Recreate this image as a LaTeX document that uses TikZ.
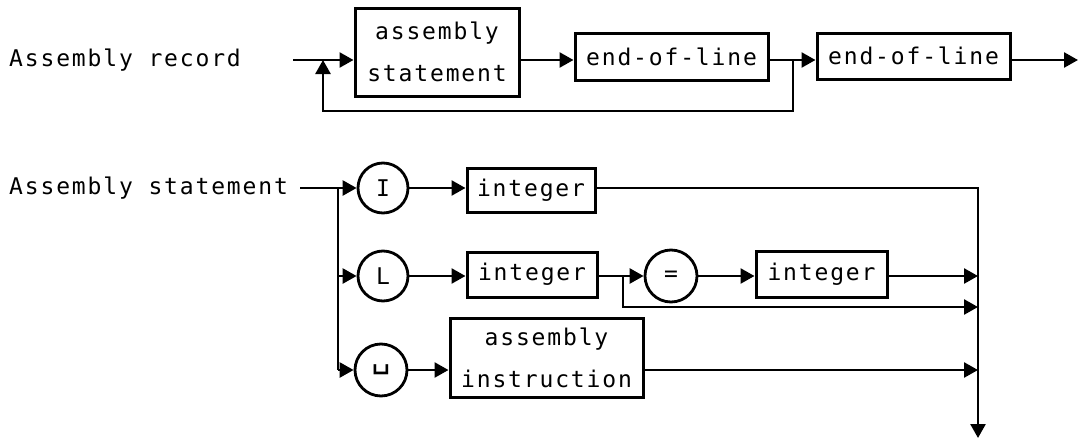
\documentclass[tikz,border=0pt]{standalone}
\usepackage{fontspec}
\newfontfamily\plotfont[LetterSpace=8]{DejaVu Sans Mono}
\usetikzlibrary{arrows.meta}
\tikzset{
  lbl/.style={font=\plotfont\fontsize{23}{40}\selectfont, inner sep=0pt},
  ln/.style={line width=2.6pt, line join=miter},
  arr/.style={ln, -{Triangle[length=14pt,width=15pt]}},
  boxnode/.style={draw, line width=3pt, font=\plotfont\fontsize{23}{40}\selectfont, inner sep=0pt, align=center},
  circnode/.style={draw, circle, line width=2.8pt, font=\plotfont\fontsize{23}{40}\selectfont, inner sep=0pt, minimum size=50pt},
}
\begin{document}
\begin{tikzpicture}[x=1pt,y=-1pt]
\useasboundingbox (0,0) rectangle (1084,439);
% ---------- top diagram ----------
\node[lbl, anchor=west] (t1) at (9,60) {Assembly record};
\node[boxnode, minimum width=164pt, minimum height=88pt] (as) at (437,52) {assembly\\[2pt]statement};
\node[boxnode, minimum width=193pt, minimum height=47pt] (e1) at (671.5,56.5) {end-of-line};
\node[boxnode, minimum width=193pt, minimum height=46pt] (e2) at (913.5,56) {end-of-line};
\coordinate (s0) at (293,60);
\coordinate (j1) at (323,60);
\coordinate (j2) at (793,60);
\coordinate (lp) at (793,111);
\coordinate (out1) at (1078,60);
\draw[arr] (s0) -- (s0 -| as.west);
\draw[arr] (as.east |- s0) -- (e1.west |- s0);
\draw[arr] (e1.east |- s0) -- (e2.west |- s0);
\draw[arr] (e2.east |- s0) -- (out1);
\draw[arr] (j2) -- (lp) -| (j1);
% ---------- bottom diagram ----------
\node[lbl, anchor=west] (t2) at (9,188) {Assembly statement};
\node[circnode] (I) at (383,188) {I};
\node[circnode] (L) at (383,276) {L};
\node[circnode, minimum size=52pt, font=\plotfont\fontsize{32}{40}\selectfont] (sp) at (381,370) {␣};
\node[boxnode, minimum width=128pt, minimum height=44pt] (int1) at (531,190) {integer};
\node[boxnode, minimum width=130pt, minimum height=45pt] (int2) at (532,274.5) {integer};
\node[circnode, minimum size=52pt] (eq) at (671,276) {=};
\node[boxnode, minimum width=131pt, minimum height=46pt] (int3) at (821.5,274) {integer};
\node[boxnode, minimum width=193pt, minimum height=79pt] (ai) at (546.5,357.5) {assembly\\[2pt]instruction};
\coordinate (s1) at (300,188);
\coordinate (b0) at (338,188);
\coordinate (b1) at (338,276);
\coordinate (b2) at (338,370);
\coordinate (r0) at (978,188);
\coordinate (r1) at (978,276);
\coordinate (r2) at (978,307);
\coordinate (r3) at (978,370);
\coordinate (rend) at (978,438);
\coordinate (j3) at (623,276);
\draw[arr] (s1) -- (I.west);
\draw[ln] (b0) -- (b2);
\draw[arr] (b1) -- (L.west);
\draw[arr] (b2) -- (sp.west);
\draw[arr] (I.east) -- (int1.west |- I);
\draw[arr] (int1.east |- I) -- (r0) -- (rend);
\draw[arr] (L.east) -- (int2.west |- L);
\draw[arr] (int2.east |- L) -- (eq.west);
\draw[arr] (eq.east) -- (int3.west |- eq);
\draw[arr] (int3.east |- eq) -- (r1);
\draw[arr] (j3) |- (r2);
\draw[arr] (sp.east) -- (ai.west |- sp);
\draw[arr] (ai.east |- sp) -- (r3);
\end{tikzpicture}
\end{document}
